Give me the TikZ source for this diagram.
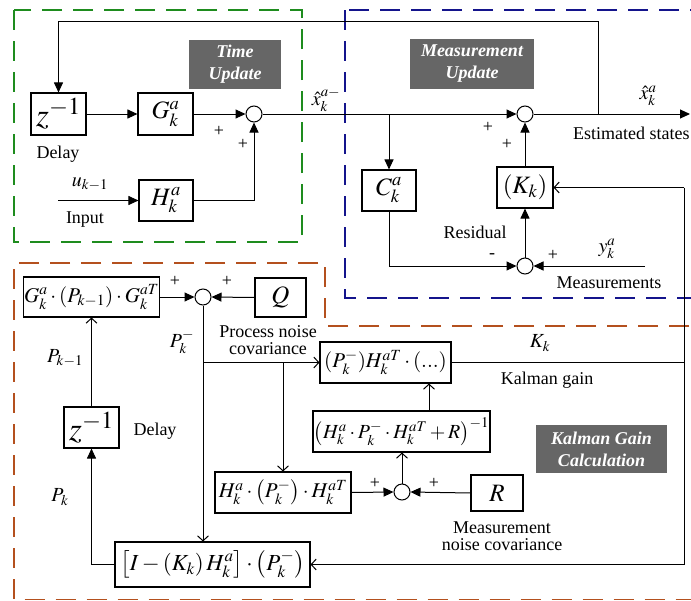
\documentclass[tikz,border=0pt]{standalone}
\usepackage{mathptmx}
\usepackage{fontspec}
\setmainfont{Liberation Serif}
\newfontfamily\txtserif{Liberation Serif}
\usetikzlibrary{arrows.meta}

\definecolor{tuGreen}{HTML}{1E8C1E}
\definecolor{muBlue}{HTML}{14148C}
\definecolor{kgOrange}{HTML}{B4501E}
\definecolor{tagGray}{HTML}{666666}

\newcommand{\zfont}{\fontsize{33}{36}\selectfont}
\newcommand{\bfnt}{\fontsize{25}{28}\selectfont}
\newcommand{\mfnt}{\fontsize{21}{24}\selectfont}
\newcommand{\lfnt}{\fontsize{20}{24}\selectfont}
\newcommand{\tfnt}{\txtserif\fontsize{18}{20}\selectfont}

\begin{document}
\begin{tikzpicture}[x=1pt,y=-1pt,
  blk/.style={draw, line width=1.1pt, inner sep=1pt, font=\bfnt},
  sumc/.style={circle, draw, line width=1pt, minimum size=16pt, inner sep=0pt},
  lbl/.style={font=\tfnt, inner sep=0pt, align=center},
  mlbl/.style={font=\lfnt, inner sep=0pt},
  pm/.style={font=\tfnt, inner sep=0pt},
  ln/.style={line width=1pt},
  fa/.style={ln, -{Triangle[length=10pt,width=9pt]}},
  oa/.style={ln, -{Straight Barb[length=5pt,width=11pt,line width=1pt]}},
  tag/.style={fill=tagGray, text=white, font=\txtserif\fontsize{18}{22}\selectfont\bfseries\itshape, align=center, inner sep=0pt},
  region/.style={line width=1.8pt, dash pattern=on 20pt off 11pt}
]
\useasboundingbox (0,0) rectangle (691,600);
\clip (0,0) rectangle (691,600);

% ---- region frames
\draw[region, tuGreen] (14,10) rectangle (302,242);
\draw[region, muBlue] (345,10) rectangle (720,298);
\draw[region, kgOrange] (720,326) -- (325,326) -- (325,263) -- (14,263) -- (14,599.5) -- (720,599.5);

% ---- region tags
\node[tag, minimum width=92pt, minimum height=49pt] at (235,64.5) {Time\\Update};
\node[tag, minimum width=124pt, minimum height=50pt] at (472,64) {Measurement\\Update};
\node[tag, minimum width=131pt, minimum height=48pt] at (601.5,449) {Kalman Gain\\Calculation};

% ---- time update
\node[blk, minimum width=55pt, minimum height=42pt] (z1) at (58.5,114) {\zfont$z^{-1}$};
\node[blk, minimum width=55pt, minimum height=42pt] (G) at (165.5,114) {$G_k^a$};
\node[sumc] (s1) at (254,114) {};
\node[blk, minimum width=54pt, minimum height=41pt] (H) at (166,200.5) {$H_k^a$};
\coordinate (uin) at (58,200.5);

% ---- measurement update
\node[sumc] (s2) at (525,114) {};
\node[blk, minimum width=54pt, minimum height=41pt] (C) at (389,190.5) {$C_k^a$};
\node[sumc] (s3) at (525,266) {};
\node[blk, minimum width=56pt, minimum height=41pt] (K) at (525,187.5) {$\left(K_k\right)$};
\coordinate (br1) at (389,114);
\coordinate (yin) at (645,266);
\coordinate (out) at (690,114);
\coordinate (fb) at (598,114);
\coordinate (fbtop) at (598,21);

% ---- Kalman gain calculation
\node[blk, minimum width=133pt, minimum height=40pt, font=\mfnt] (GPG) at (91.5,297) {$G_k^a\cdot\left(P_{k-1}\right)\cdot G_k^{aT}$};
\node[sumc] (s4) at (203,297) {};
\node[blk, minimum width=51pt, minimum height=39pt] (Q) at (280.5,297.5) {$Q$};
\node[blk, minimum width=131pt, minimum height=41pt, font=\mfnt] (PH) at (385.5,362.5) {$(P_k^-)H_k^{aT}\cdot(...)$};
\node[blk, minimum width=177pt, minimum height=41pt, font=\fontsize{20}{24}\selectfont] (HR) at (401.5,431.5) {$\left(H_k^a\cdot P_k^-\cdot H_k^{aT}+R\right)^{-1}$};
\node[sumc] (s5) at (402,492) {};
\node[blk, minimum width=136pt, minimum height=41pt, font=\mfnt] (HPH) at (283,492.5) {$H_k^a\cdot\left(P_k^-\right)\cdot H_k^{aT}$};
\node[blk, minimum width=52pt, minimum height=36pt] (R) at (497,493) {$R$};
\node[blk, minimum width=55pt, minimum height=41pt] (z2) at (91.5,427.5) {\zfont$z^{-1}$};
\node[blk, minimum width=195pt, minimum height=45pt, font=\fontsize{23}{26}\selectfont] (IK) at (212.5,564.5) {$\left[I-\left(K_k\right)H_k^a\right]\cdot\left(P_k^-\right)$};
\coordinate (pb) at (203,362.5);
\coordinate (pb2) at (283,362.5);
\coordinate (hrup) at (429,411);
\coordinate (kR) at (684,362.5);
\coordinate (kTop) at (684,187.5);
\coordinate (kBot) at (684,564.5);

% ---- connectors: time update
\draw[fa] (z1.east) -- (G.west);
\draw[fa] (G.east) -- (s1.west);
\draw[fa] (uin) -- (H.west);
\draw[fa] (H.east) -| (s1.south);
\draw[fa] (fb) -- (fbtop) -| (z1.north);

% ---- connectors: measurement update
\draw[fa] (s1.east) -- (s2.west);
\draw[fa] (br1) -- (C.north);
\draw[fa] (C.south) |- (s3.west);
\draw[fa] (yin) -- (s3.east);
\draw[fa] (s3.north) -- (K.south);
\draw[fa] (K.north) -- (s2.south);
\draw[fa] (s2.east) -- (out);

% ---- connectors: Kalman gain
\draw[fa] (GPG.east) -- (s4.west);
\draw[fa] (Q.west) -- (s4.east);
\draw[oa] (s4.south) -- (s4 |- IK.north);
\draw[oa] (pb) -- (PH.west);
\draw[oa] (pb2) -- (HPH.north);
\draw[oa] (hrup) -- (hrup |- PH.south);
\draw[oa] (s5.north) -- (s5 |- HR.south);
\draw[fa] (HPH.east) -- (s5.west);
\draw[fa] (R.west) -- (s5.east);
\draw[ln] (PH.east) -- (kR);
\draw[ln] (kTop) -- (kBot);
\draw[oa] (kTop) -- (K.east);
\draw[oa] (kBot) -- (IK.east);
\draw[oa] (z2.north) -- (GPG.south);
\draw[fa] (IK.west) -| (z2.south);

% ---- labels: time update
\node[lbl] (tDelay) at (58,154) {Delay};
\node[lbl] (tInput) at (85,220) {Input};
\node[mlbl] (tu) at (90,184) {$u_{k-1}$};
\node[pm] (p1) at (219,131) {+};
\node[pm] (p2) at (243,144) {+};
\node[mlbl] (txm) at (326,100) {$\hat{x}_k^{a-}$};

% ---- labels: measurement update
\node[pm] (p3) at (488,127) {+};
\node[pm] (p4) at (507,144) {+};
\node[mlbl] (txa) at (648,96) {$\hat{x}_k^{a}$};
\node[lbl, anchor=west] (tEst) at (573,133) {Estimated states};
\node[lbl] (tRes) at (475,232) {Residual};
\node[pm] (m1) at (492,256) {-};
\node[pm] (p5) at (553,255) {+};
\node[mlbl] (ty) at (607,249) {$y_k^a$};
\node[lbl] (tMeas) at (609,283) {Measurements};

% ---- labels: Kalman gain
\node[pm] (p6) at (175,281) {+};
\node[pm] (p7) at (227,281) {+};
\node[mlbl] (tPm) at (182,342) {$P_k^-$};
\node[lbl] (tQ) at (268,340.5) {Process noise\\[-3pt]covariance};
\node[mlbl] (tK) at (540,343) {$K_k$};
\node[lbl] (tKg) at (547,380) {Kalman gain};
\node[pm] (p8) at (375,483) {+};
\node[pm] (p9) at (434,483) {+};
\node[lbl] (tR) at (502,536.5) {Measurement\\[-3pt]noise covariance};
\node[lbl] (tDelay2) at (155,431) {Delay};
\node[mlbl] (tPk1) at (65,358) {$P_{k-1}$};
\node[mlbl] (tPk) at (60,497) {$P_k$};
\end{tikzpicture}
\end{document}
